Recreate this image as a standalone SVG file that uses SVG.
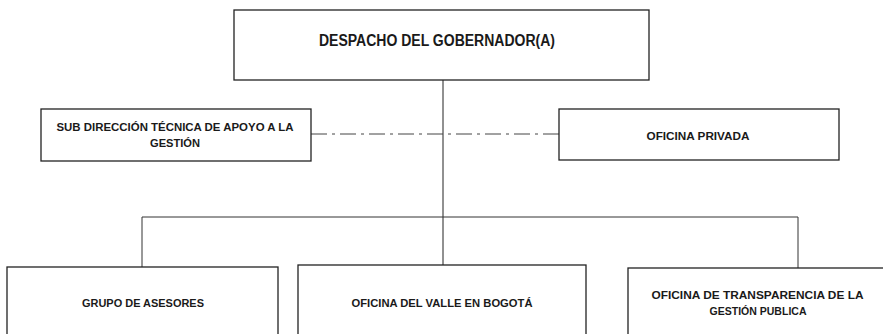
<svg xmlns="http://www.w3.org/2000/svg" width="883" height="334" viewBox="0 0 883 334">
<style>
.box{fill:#ffffff;stroke:#222222;stroke-width:1.3}
.t{font-family:"Liberation Sans",Arial,sans-serif;font-weight:bold;fill:#1a1a1a;text-anchor:middle}
.big{font-size:16px}
.sm{font-size:11.5px}
.ln{fill:none;stroke:#333333;stroke-width:1}
.dd{fill:none;stroke:#444444;stroke-width:1;stroke-dasharray:16 5 3 5}
</style>
<rect width="883" height="334" fill="#ffffff"/>
<g id="connectors">
<line class="ln" x1="443" y1="80" x2="443" y2="265" style="stroke:#222"/>
<line class="dd" x1="311" y1="134" x2="559" y2="134"/>
<polyline class="ln" points="142,267 142,217 798,217 798,268"/>
</g>
<g id="despacho">
<rect class="box" x="234" y="10" width="415" height="70"/>
<text class="t big" x="437" y="45.5" textLength="236" lengthAdjust="spacingAndGlyphs">DESPACHO DEL GOBERNADOR(A)</text>
</g>
<g id="subdireccion">
<rect class="box" x="41" y="109" width="270" height="52"/>
<text class="t sm" x="175" y="131" textLength="237" lengthAdjust="spacingAndGlyphs">SUB DIRECCIÓN TÉCNICA DE APOYO A LA</text>
<text class="t sm" x="175" y="147" textLength="50" lengthAdjust="spacingAndGlyphs">GESTIÓN</text>
</g>
<g id="oficina-privada">
<rect class="box" x="559" y="109" width="280" height="51"/>
<text class="t sm" x="698" y="139.5" textLength="103" lengthAdjust="spacingAndGlyphs">OFICINA PRIVADA</text>
</g>
<g id="grupo-asesores">
<rect class="box" x="7" y="267" width="271" height="80"/>
<text class="t sm" x="143" y="307" textLength="122" lengthAdjust="spacingAndGlyphs">GRUPO DE ASESORES</text>
</g>
<g id="oficina-valle">
<rect class="box" x="298" y="265" width="288" height="80"/>
<text class="t sm" x="442" y="307" textLength="181" lengthAdjust="spacingAndGlyphs">OFICINA DEL VALLE EN BOGOTÁ</text>
</g>
<g id="oficina-transparencia">
<rect class="box" x="628" y="268" width="270" height="80"/>
<text class="t sm" x="757.5" y="299" textLength="212" lengthAdjust="spacingAndGlyphs">OFICINA DE TRANSPARENCIA DE LA</text>
<text class="t sm" x="758" y="315" textLength="97" lengthAdjust="spacingAndGlyphs">GESTIÓN PUBLICA</text>
</g>
</svg>
